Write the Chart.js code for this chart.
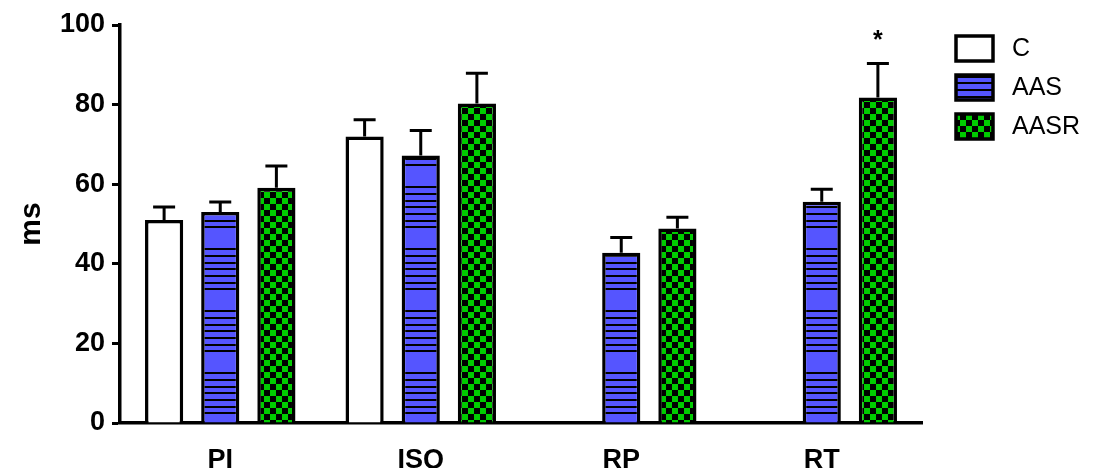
<!DOCTYPE html>
<html>
<head>
<meta charset="utf-8">
<script src="https://cdn.jsdelivr.net/npm/chart.js@4"></script>
<style>
  html, body { margin: 0; padding: 0; background: #fff; }
  #wrap { width: 1105px; height: 468px; }
</style>
</head>
<body>
<div id="wrap"><canvas id="chart"></canvas></div>
<script>
const categories = ['PI', 'ISQ', 'RP', 'RT'];
const seriesNames = ['C', 'AAS', 'AASR'];
const cValues = [51, 72, null, null];
const cErrors = [3.3, 4.2, null, null];
const aasValues = [53, 67.2, 42.8, 55.6];
const aasErrors = [2.5, 6.3, 3.8, 3.1];
const aasrValues = [59.1, 80.3, 48.9, 81.8];
const aasrErrors = [5.5, 7.6, 2.8, 8.5];
const aasrMarks = ['', '', '', '*'];
const yTicks = [0, 20, 40, 60, 80, 100];

const FONT = 'Arial, "Liberation Sans", sans-serif';

// fill patterns
function stripePattern() {
    const c = document.createElement('canvas');
    c.width = 40; c.height = 62;
    const g = c.getContext('2d');
    g.fillStyle = '#5555ff';
    g.fillRect(0, 0, 40, 62);
    g.fillStyle = '#000';
    [0, 7, 14, 20, 27, 34, 40].forEach(y => g.fillRect(0, y, 40, 2));
    return g.createPattern(c, 'repeat');
}

function checkerPattern() {
    const c = document.createElement('canvas');
    c.width = 12; c.height = 12;
    const g = c.getContext('2d');
    g.fillStyle = '#000';
    g.fillRect(0, 0, 12, 12);
    g.fillStyle = '#00cc00';
    g.fillRect(0, 0, 6, 6);
    g.fillRect(6, 6, 6, 6);
    return g.createPattern(c, 'repeat');
}

const fills = ['#ffffff', stripePattern(), checkerPattern()];
const values = [cValues, aasValues, aasrValues];
const errors = [cErrors, aasErrors, aasrErrors];

const errorBars = {
    id: 'errorBars',
    afterDatasetsDraw(chart) {
        const ctx = chart.ctx;
        const y = chart.scales.y;
        ctx.save();
        ctx.strokeStyle = '#000';
        ctx.lineWidth = 3;
        chart.data.datasets.forEach((ds, di) => {
            const meta = chart.getDatasetMeta(di);
            meta.data.forEach((bar, i) => {
                const v = ds.data[i], e = ds.errors[i];
                if (v == null || e == null) return;
                const top = y.getPixelForValue(v + e);
                ctx.beginPath();
                ctx.moveTo(bar.x, bar.y);
                ctx.lineTo(bar.x, top);
                ctx.moveTo(bar.x - 11, top);
                ctx.lineTo(bar.x + 11, top);
                ctx.stroke();
                const mark = ds.marks ? ds.marks[i] : '';
                if (mark) {
                    ctx.fillStyle = '#000';
                    ctx.font = 'bold 25px ' + FONT;
                    ctx.textAlign = 'center';
                    ctx.textBaseline = 'middle';
                    ctx.fillText(mark, bar.x, top - 22);
                }
            });
        });
        ctx.restore();
    }
};

const boxLegend = {
    id: 'boxLegend',
    afterDraw(chart) {
        const ctx = chart.ctx;
        ctx.save();
        chart.data.datasets.forEach((ds, i) => {
            const bx = 956, by = 36 + 39 * i;
            ctx.fillStyle = ds.backgroundColor;
            ctx.fillRect(bx, by, 37, 25);
            ctx.strokeStyle = '#000';
            ctx.lineWidth = 3.5;
            ctx.strokeRect(bx, by, 37, 25);
            ctx.fillStyle = '#000';
            ctx.font = '25px ' + FONT;
            ctx.textAlign = 'left';
            ctx.textBaseline = 'middle';
            ctx.fillText(ds.label, 1012, by + 13);
        });
        ctx.restore();
    }
};

new Chart(document.getElementById('chart'), {
    type: 'bar',
    data: {
        labels: categories,
        datasets: seriesNames.map((name, i) => ({
            label: name,
            data: values[i],
            errors: errors[i],
            marks: i === 2 ? aasrMarks : null,
            backgroundColor: fills[i],
            borderColor: '#000',
            borderWidth: 3.5,
            categoryPercentage: 0.84,
            barPercentage: 0.68
        }))
    },
    options: {
        responsive: true,
        maintainAspectRatio: false,
        animation: false,
        layout: { padding: { left: 14, right: 183, top: 25, bottom: 0 } },
        plugins: { legend: { display: false }, tooltip: { enabled: false } },
        scales: {
            x: {
                grid: { display: false },
                border: { color: '#000', width: 3.5 },
                ticks: { color: '#000', padding: 13, font: { family: FONT, size: 27, weight: 'bold' } },
                afterFit: s => { s.height = 45; }
            },
            y: {
                min: 0,
                max: 100,
                afterBuildTicks: s => { s.ticks = yTicks.map(v => ({ value: v })); },
                grid: { drawOnChartArea: false, drawTicks: true, tickLength: 8, tickWidth: 3, tickColor: '#000' },
                border: { color: '#000', width: 3.5 },
                ticks: { color: '#000', padding: 7, font: { family: FONT, size: 27, weight: 'bold' } },
                title: { display: true, text: 'ms', color: '#000', padding: 0, font: { family: FONT, size: 30, weight: 'bold' } },
                afterFit: s => { s.width = 106; }
            }
        }
    },
    plugins: [errorBars, boxLegend]
});
</script>
</body>
</html>
